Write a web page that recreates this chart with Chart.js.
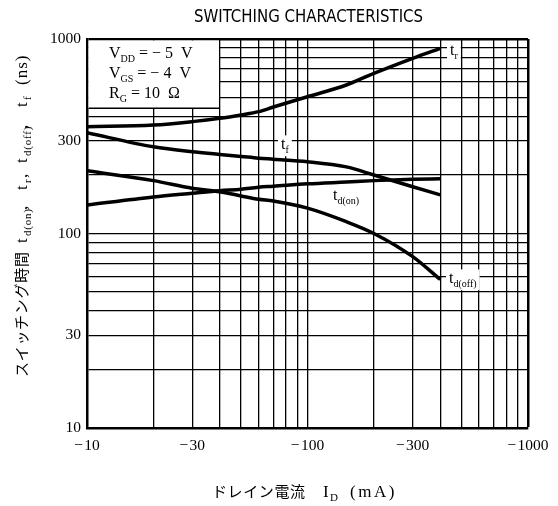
<!DOCTYPE html>
<html>
<head>
<meta charset="utf-8">
<script src="https://cdn.jsdelivr.net/npm/chart.js@4/dist/chart.umd.min.js"></script>
<style>
  html, body { margin: 0; padding: 0; background: #fff; }
  #wrap { width: 558px; height: 506px; }
</style>
</head>
<body>
<div id="wrap"><canvas id="c" width="558" height="506"></canvas></div>
<script>
// drain current |ID| (mA), plotted as -10 ... -1000
const currents = [10, 20, 30, 40, 50, 60, 70, 100, 150, 200, 300, 400];
// switching times (ns)
const tr    = [354, 361, 376, 391, 407, 423, 447, 505, 580, 666, 796, 896];
const tf    = [330, 279, 263, 255, 249, 244, 241, 234, 220, 200, 174, 158];
const tdOn  = [140, 154, 161, 166, 169, 173, 175, 180, 184, 187, 190, 191];
const tdOff = [210, 187, 171, 164, 156, 150, 147, 135, 115, 100, 76, 58];

const gridTicks = [10, 20, 30, 40, 50, 60, 70, 80, 90, 100, 200, 300, 400, 500, 600, 700, 800, 900, 1000];
const labelTicks = [10, 30, 100, 300, 1000];

const serif = '"Liberation Serif", "DejaVu Serif", serif';
const jp = '"Noto Sans CJK JP", sans-serif';

function pts(ys) {
  return currents.map((c, i) => ({ x: c, y: ys[i] }));
}

const fonts = {
  n: '17px ' + serif,
  s: '11px ' + serif,
  j: '15px ' + jp
};

// pieces placed one by one: [text, kind, start, letterSpacing]
function pieces(ctx, list, base) {
  ctx.textAlign = 'left';
  ctx.textBaseline = 'alphabetic';
  list.forEach(p => {
    ctx.font = fonts[p[1]];
    ctx.letterSpacing = (p[3] || 0) + 'px';
    ctx.fillText(p[0], p[2], p[1] === 's' ? base + 4 : base);
  });
  ctx.letterSpacing = '0px';
}

// draw text made of normal / subscript pieces, flowing left to right
function rich(ctx, parts, x, y, size) {
  const f = { n: size + 'px ' + serif, s: Math.round(size * 0.64) + 'px ' + serif };
  let cx = x;
  ctx.textAlign = 'left';
  ctx.textBaseline = 'alphabetic';
  parts.forEach(p => {
    ctx.font = f[p[1]];
    ctx.fillText(p[0], cx, p[1] === 's' ? y + size * 0.28 : y);
    cx += ctx.measureText(p[0]).width;
  });
  return cx - x;
}

function labelAt(ctx, parts, x, y, size) {
  ctx.save();
  let w = 0;
  parts.forEach(p => {
    ctx.font = (p[1] === 's' ? Math.round(size * 0.64) : size) + 'px ' + serif;
    w += ctx.measureText(p[0]).width;
  });
  ctx.fillStyle = '#fff';
  ctx.fillRect(x - 3, y - size * 0.85, w + 6, size * 1.3);
  ctx.fillStyle = '#000';
  rich(ctx, parts, x, y, size);
  ctx.restore();
}

const annotations = {
  id: 'annotations',
  beforeDatasetsDraw(chart) {
    const ctx = chart.ctx;
    const xs = chart.scales.x, ys = chart.scales.y;
    ctx.save();
    // condition box in the upper left corner
    const bx0 = xs.getPixelForValue(10) + 1.5;
    const bx1 = xs.getPixelForValue(40) - 0.8;
    const by0 = ys.getPixelForValue(1000) + 1.5;
    const by1 = ys.getPixelForValue(440);
    ctx.fillStyle = '#fff';
    ctx.fillRect(bx0, by0, bx1 - bx0, by1 - by0);
    ctx.strokeStyle = '#000';
    ctx.lineWidth = 1.5;
    ctx.beginPath();
    ctx.moveTo(bx0, by1);
    ctx.lineTo(bx1 + 1, by1);
    ctx.stroke();
    ctx.fillStyle = '#000';
    rich(ctx, [['V', 'n'], ['DD', 's'], [' = \u2212 5  V', 'n']], 109, 58, 16);
    rich(ctx, [['V', 'n'], ['GS', 's'], [' = \u2212 4  V', 'n']], 109, 78, 16);
    rich(ctx, [['R', 'n'], ['G', 's'], [' = 10  \u03a9', 'n']], 109, 98, 16);

    // curve labels
    labelAt(ctx, [['t', 'n'], ['r', 's']], 450, 55, 16);
    labelAt(ctx, [['t', 'n'], ['f', 's']], 281, 149, 16);
    labelAt(ctx, [['t', 'n'], ['d(on)', 's']], 333, 200, 16);
    labelAt(ctx, [['t', 'n'], ['d(off)', 's']], 449, 283, 16);
    ctx.restore();
  },
  afterDraw(chart) {
    const ctx = chart.ctx;
    ctx.save();
    ctx.fillStyle = '#000';
    // title
    ctx.font = '17px "Liberation Sans Narrow", "DejaVu Sans Condensed", "Liberation Sans", sans-serif';
    const tw = ctx.measureText('SWITCHING CHARACTERISTICS').width;
    ctx.translate(308.5, 22);
    ctx.scale(229 / tw, 1);
    ctx.textAlign = 'center';
    ctx.textBaseline = 'alphabetic';
    ctx.fillText('SWITCHING CHARACTERISTICS', 0, 0);
    ctx.restore();

    // y axis title, read from bottom to top; start = 377 - y
    ctx.save();
    ctx.fillStyle = '#000';
    ctx.translate(27, 377);
    ctx.rotate(-Math.PI / 2);
    pieces(ctx, [
      ['スイッチング時間', 'j', 0, 0.7],
      ['t', 'n', 134], ['d(on)', 's', 141, 0.8], [',', 'n', 167],
      ['t', 'n', 187], ['r', 's', 194], [',', 'n', 199],
      ['t', 'n', 214], ['d(off)', 's', 221, 0.8], [',', 'n', 248],
      ['t', 'n', 270], ['f', 's', 277],
      ['(ns)', 'n', 292, 1]
    ], 0);
    ctx.restore();

    // x axis title
    ctx.save();
    ctx.fillStyle = '#000';
    pieces(ctx, [
      ['ドレイン電流', 'j', 212, 0.6],
      ['I', 'n', 323], ['D', 's', 330],
      ['(mA)', 'n', 350, 2.5]
    ], 497);
    ctx.restore();
  }
};

function edgeWidth(c) {
  return c.tick && c.tick.value === 1000 ? 2.5 : 1.3;
}

const lineStyle = {
  borderColor: '#000',
  borderWidth: 3.5,
  pointRadius: 0,
  cubicInterpolationMode: 'monotone',
  fill: false
};

new Chart(document.getElementById('c'), {
  type: 'line',
  data: {
    datasets: [
      Object.assign({ label: 'tr', data: pts(tr) }, lineStyle),
      Object.assign({ label: 'tf', data: pts(tf) }, lineStyle),
      Object.assign({ label: 'td(on)', data: pts(tdOn) }, lineStyle),
      Object.assign({ label: 'td(off)', data: pts(tdOff) }, lineStyle)
    ]
  },
  options: {
    responsive: false,
    animation: false,
    devicePixelRatio: 1,
    layout: { padding: { top: 39, right: 30, left: 0, bottom: 0 } },
    plugins: { legend: { display: false }, title: { display: false }, tooltip: { enabled: false } },
    scales: {
      x: {
        type: 'logarithmic',
        min: 10,
        max: 1000,
        afterBuildTicks: s => { s.ticks = gridTicks.map(v => ({ value: v })); },
        afterFit: s => { s.height = 78; },
        ticks: {
          autoSkip: false,
          maxRotation: 0,
          padding: 9,
          color: '#000',
          font: { family: serif, size: 15.5 },
          callback: v => labelTicks.includes(v) ? '\u2212\u200a' + v : ''
        },
        grid: { color: '#000', lineWidth: edgeWidth, drawTicks: false },
        border: { display: true, color: '#000', width: 2.5 }
      },
      y: {
        type: 'logarithmic',
        min: 10,
        max: 1000,
        afterBuildTicks: s => { s.ticks = gridTicks.map(v => ({ value: v })); },
        afterFit: s => { s.width = 87; },
        ticks: {
          autoSkip: false,
          padding: 6,
          color: '#000',
          font: { family: serif, size: 15.5 },
          callback: v => labelTicks.includes(v) ? String(v) : ''
        },
        grid: { color: '#000', lineWidth: edgeWidth, drawTicks: false },
        border: { display: true, color: '#000', width: 2.5 }
      }
    }
  },
  plugins: [annotations]
});
</script>
</body>
</html>
